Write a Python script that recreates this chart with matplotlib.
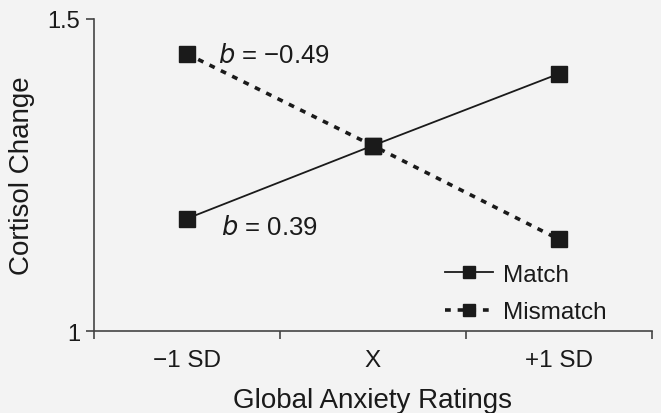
import matplotlib.pyplot as plt
from matplotlib.ticker import FixedLocator, NullFormatter

categories = ['\u22121 SD', 'X', '+1 SD']
match_vals = [1.180, 1.297, 1.412]
mismatch_vals = [1.444, 1.297, 1.147]
series_names = ['Match', 'Mismatch']
slope_labels = ['0.39', '\u22120.49']

BG = '#f3f3f3'
INK = '#1a1a1a'

plt.rcParams['font.family'] = ['Liberation Sans', 'DejaVu Sans']

fig = plt.figure(figsize=(6.61, 4.14), dpi=100, facecolor=BG)
ax = fig.add_axes([0.142, 0.198, 0.844, 0.754], facecolor=BG)

x = list(range(len(categories)))
ax.plot(x, match_vals, color=INK, lw=1.3, marker='s', ms=12,
        label=series_names[0], zorder=3)
ax.plot(x, mismatch_vals, color=INK, lw=2.6, ls=(0, (1.6, 1.9)),
        marker='s', ms=12, label=series_names[1], zorder=3)

ax.text(0.165, mismatch_vals[0] - 0.002, '$b$ = ' + slope_labels[1], fontsize=18.5,
        va='center', ha='left', color=INK)
ax.text(0.185, match_vals[0] - 0.013, '$b$ = ' + slope_labels[0], fontsize=18.5,
        va='center', ha='left', color=INK)

ax.set_xlim(-0.5, 2.5)
ax.set_ylim(1, 1.5)
ax.set_yticks([1, 1.5])
ax.set_yticklabels(['1', '1.5'])
ax.set_xticks(x)
ax.set_xticklabels(categories)
ax.xaxis.set_minor_locator(FixedLocator([-0.5, 0.5, 1.5, 2.5]))
ax.xaxis.set_minor_formatter(NullFormatter())
ax.tick_params(axis='x', which='major', length=0, pad=13, labelsize=17.5, colors=INK)
ax.tick_params(axis='x', which='minor', length=6, width=1.2, color='#444444')
ax.tick_params(axis='y', length=6, width=1.2, pad=4, labelsize=17,
               color='#444444', labelcolor=INK)

for s in ['top', 'right']:
    ax.spines[s].set_visible(False)
for s in ['left', 'bottom']:
    ax.spines[s].set_color('#444444')
    ax.spines[s].set_linewidth(1.2)

ax.set_xlabel('Global Anxiety Ratings', fontsize=20, color=INK, labelpad=11.5)
ax.set_ylabel('Cortisol Change', fontsize=20, color=INK, labelpad=9)

leg = ax.legend(loc='center left', bbox_to_anchor=(0.629, 0.12), frameon=False,
                fontsize=17.5, markerscale=0.75, handlelength=2.0,
                handletextpad=0.4, labelspacing=0.65, borderpad=0,
                borderaxespad=0)
for t in leg.get_texts():
    t.set_color(INK)

fig.savefig('out.png', dpi=100, facecolor=BG)
